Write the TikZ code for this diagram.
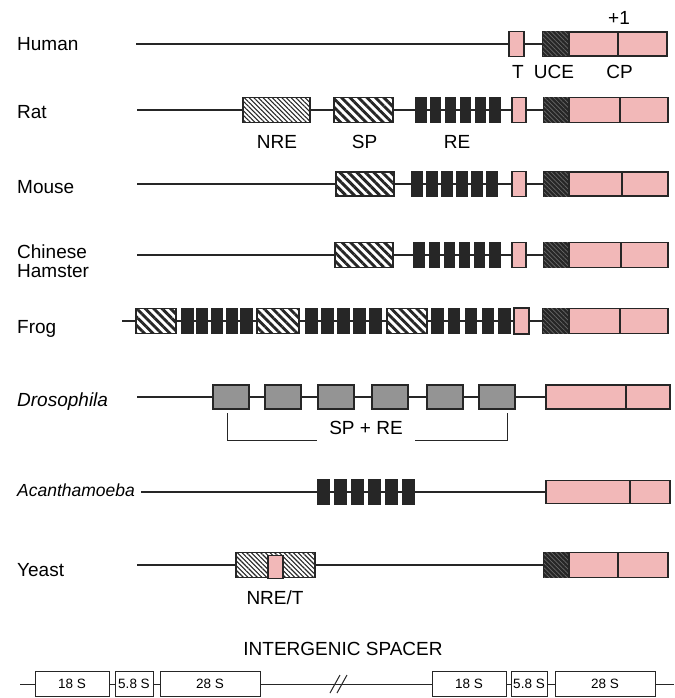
\documentclass[tikz,border=0pt]{standalone}
\usepackage{fontspec}
\setmainfont{Liberation Sans}
\usetikzlibrary{patterns.meta,backgrounds}
\definecolor{cppink}{RGB}{242,184,184}
\definecolor{ink}{RGB}{38,38,38}
\definecolor{hatchgray}{RGB}{105,105,105}
\tikzset{
  base/.style={draw=ink, line width=1.3pt, inner sep=0pt, outer sep=0pt},
  cpbox/.style={base, fill=cppink},
  ucebox/.style={base, fill=ink, postaction={pattern={Lines[angle=-45,distance=3.2pt,line width=0.7pt]}, pattern color=hatchgray}},
  nrebox/.style={base, fill=white, postaction={pattern={Lines[angle=-45,distance=3.3pt,line width=1.1pt]}, pattern color=ink}},
  spbox/.style={base, fill=white, postaction={pattern={Lines[angle=-45,distance=6pt,line width=2.9pt]}, pattern color=ink}},
  reblock/.style={base, fill=ink},
  dbox/.style={base, fill=black!42},
  wbox/.style={base, fill=white, line width=1pt, font=\fontsize{13.5}{13.5}\selectfont},
  lab/.style={font=\fontsize{19}{19}\selectfont, inner sep=0pt, anchor=base},
  rowlab/.style={lab, anchor=base west},
  backbone/.style={draw=ink, line width=1.2pt},
  bracket/.style={draw=ink, line width=1pt},
}
% box from x1 to x2 centred on y with height h
\newcommand\bx[6]{\node[#1, minimum width={#4pt-#3pt}, minimum height=#6pt] (#2) at ({(#3+#4)/2},#5) {};}
\newcommand\bxt[7]{\node[#1, minimum width={#4pt-#3pt}, minimum height=#6pt] (#2) at ({(#3+#4)/2},#5) {#7};}
% row of n black blocks from x1 to x2, each w wide
\newcommand\blockrow[6]{%
  \foreach \i in {1,...,#4}{%
    \pgfmathsetmacro\gp{(#3-#2-#4*#6)/(#4-1)}%
    \pgfmathsetmacro\xa{#2+(\i-1)*(#6+\gp)}%
    \pgfmathsetmacro\xb{\xa+#6}%
    \bx{reblock}{#1\i}{\xa}{\xb}{#5}{25}%
  }}
\begin{document}
\begin{tikzpicture}[x=1pt,y=-1pt]
\useasboundingbox (0,0) rectangle (674,698);

% ---------------- Human
\node[rowlab] (lHuman) at (17,51) {Human};
\coordinate (hs) at (136,44);
\bx{cpbox}{hT}{509}{524}{44}{25}
\bx{ucebox}{hU}{543}{569}{44}{24}
\bx{cpbox}{hCa}{569}{618}{44}{24}
\bx{cpbox}{hCb}{618}{667}{44}{24}
\node[lab] (lT) at (518,79) {T};
\node[lab] (lUCE) at (554,79) {UCE};
\node[lab] (lCP) at (619.5,79) {CP};
\node[lab] (lplus) at (619,25) {+1};

% ---------------- Rat
\node[rowlab] (lRat) at (17,119) {Rat};
\coordinate (rs) at (137,110);
\bx{nrebox}{rN}{243}{310}{110}{25}
\bx{spbox}{rS}{334}{393}{110}{25}
\blockrow{rR}{416}{500}{6}{110}{10}
\bx{cpbox}{rT}{512}{526}{110}{25}
\bx{ucebox}{rU}{544}{569}{110}{25}
\bx{cpbox}{rCa}{569}{620}{110}{25}
\bx{cpbox}{rCb}{620}{668}{110}{25}
\node[lab] (lNRE) at (277,148) {NRE};
\node[lab] (lSP) at (364.5,148) {SP};
\node[lab] (lRE) at (457,148) {RE};

% ---------------- Mouse
\node[rowlab] (lMouse) at (17,193) {Mouse};
\coordinate (ms) at (137,184);
\bx{spbox}{mS}{336}{394}{184}{24}
\blockrow{mR}{412}{497}{6}{184}{10}
\bx{cpbox}{mT}{512}{526}{184}{25}
\bx{ucebox}{mU}{544}{569}{184}{24}
\bx{cpbox}{mCa}{569}{622}{184}{24}
\bx{cpbox}{mCb}{622}{668}{184}{24}

% ---------------- Chinese Hamster
\node[rowlab] (lChinese) at (17,258) {Chinese};
\node[rowlab] (lHamster) at (17,277) {Hamster};
\coordinate (cs) at (137,255);
\bx{spbox}{cS}{335}{393}{255}{25}
\blockrow{cR}{414}{500}{6}{255}{10}
\bx{cpbox}{cT}{512}{526}{255}{25}
\bx{ucebox}{cU}{544}{569}{255}{25}
\bx{cpbox}{cCa}{569}{621}{255}{25}
\bx{cpbox}{cCb}{621}{668}{255}{25}

% ---------------- Frog
\node[rowlab] (lFrog) at (17,333) {Frog};
\coordinate (fs) at (122,321);
\bx{spbox}{fH1}{136}{176}{321}{25}
\blockrow{fA}{182}{252}{5}{321}{11}
\bx{spbox}{fH2}{257}{299}{321}{25}
\blockrow{fB}{306}{381}{5}{321}{11}
\bx{spbox}{fH3}{387}{427}{321}{25}
\blockrow{fC}{432}{510}{5}{321}{11}
\bx{cpbox}{fT}{514}{529}{321}{26}
\bx{ucebox}{fU}{543}{569}{321}{25}
\bx{cpbox}{fCa}{569}{620}{321}{25}
\bx{cpbox}{fCb}{620}{668}{321}{25}

% ---------------- Drosophila
\node[rowlab] (lDros) at (17,406) {\itshape Drosophila};
\coordinate (ds) at (137,397);
\bx{dbox}{d1}{213}{249}{397}{24}
\bx{dbox}{d2}{265}{301}{397}{24}
\bx{dbox}{d3}{318}{354}{397}{24}
\bx{dbox}{d4}{372}{408}{397}{24}
\bx{dbox}{d5}{427}{463}{397}{24}
\bx{dbox}{d6}{479}{515}{397}{24}
\bx{cpbox}{dCa}{546}{626}{397}{24}
\bx{cpbox}{dCb}{626}{670}{397}{24}
\node[lab] (lSPRE) at (366,434) {SP + RE};
\coordinate (brL) at (227,413);
\coordinate (brR) at (507,413);
\draw[bracket] (brL) |- ([xshift=-12pt,yshift=-6.8pt]lSPRE.base west);
\draw[bracket] (brR) |- ([xshift=12pt,yshift=-6.8pt]lSPRE.base east);

% ---------------- Acanthamoeba
\node[rowlab, font=\fontsize{17.5}{17.5}\selectfont] (lAcan) at (17,496) {\itshape Acanthamoeba};
\coordinate (as) at (141,492);
\blockrow{aR}{318}{414}{6}{492}{11}
\bx{cpbox}{aCa}{546}{630}{492}{23}
\bx{cpbox}{aCb}{630}{670}{492}{23}

% ---------------- Yeast
\node[rowlab] (lYeast) at (17,576) {Yeast};
\coordinate (ys) at (137,565);
\bx{nrebox}{yN}{236}{315}{565}{25}
\bx{cpbox}{yT}{268}{283}{567}{23}
\bx{ucebox}{yU}{544}{569}{565}{25}
\bx{cpbox}{yCa}{569}{618}{565}{25}
\bx{cpbox}{yCb}{618}{668}{565}{25}
\node[lab] (lNRET) at (275,604) {NRE/T};

% ---------------- rDNA repeat
\node[lab] (lIGS) at (343,655) {INTERGENIC SPACER};
\coordinate (bs) at (20,684);
\coordinate (be) at (674,684);
\bxt{wbox}{b1}{35}{109}{684}{25}{18 S}
\bxt{wbox}{b2}{115}{153}{684}{25}{5.8 S}
\bxt{wbox}{b3}{160}{260}{684}{25}{28 S}
\bxt{wbox}{b4}{432}{506}{684}{25}{18 S}
\bxt{wbox}{b5}{511}{547}{684}{25}{5.8 S}
\bxt{wbox}{b6}{555}{655}{684}{25}{28 S}
\draw[backbone, line width=1pt] (330,693) -- (340,675);
\draw[backbone, line width=1pt] (337,693) -- (347,675);

% ---------------- background and backbones
\begin{scope}[on background layer]
\fill[white] (0,0) rectangle (674,698);
\draw[backbone] (hs) -- (hU.west);
\draw[backbone] (rs) -- (rU.west);
\draw[backbone] (ms) -- (mU.west);
\draw[backbone] (cs) -- (cU.west);
\draw[backbone] (fs) -- (fU.west);
\draw[backbone] (ds) -- (dCa.west);
\draw[backbone] (as) -- (aCa.west);
\draw[backbone] (ys) -- (yU.west);
\draw[backbone, line width=1pt] (bs) -- (be);
\end{scope}
\end{tikzpicture}
\end{document}
